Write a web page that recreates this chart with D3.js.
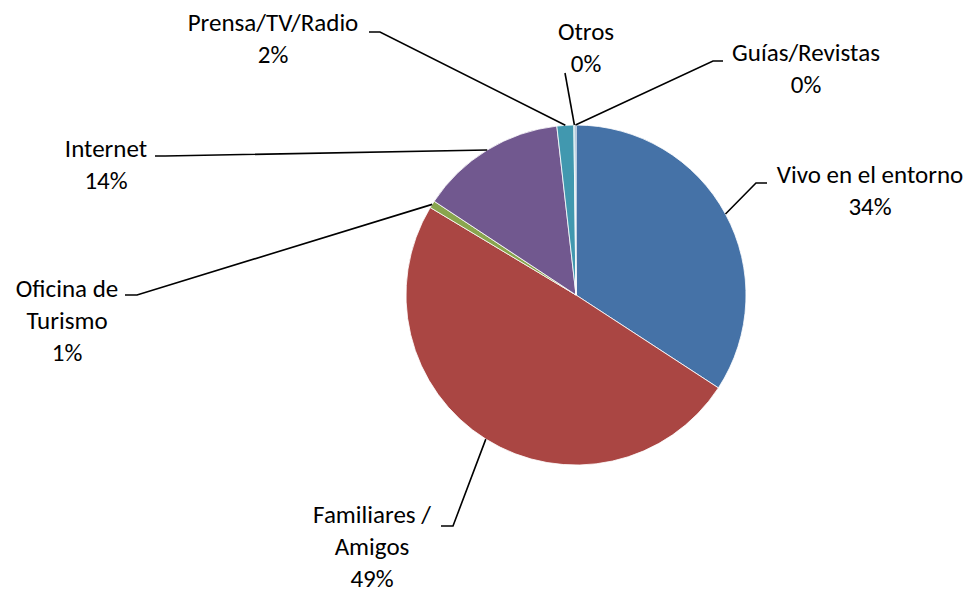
<!DOCTYPE html>
<html><head><meta charset="utf-8">
<script src="https://cdn.jsdelivr.net/npm/d3@7"></script>
<style>body{margin:0;background:#fff}</style>
</head><body><svg id="c" width="977" height="594"></svg>
<script>
const categories = ["Vivo en el entorno","Familiares / Amigos","Oficina de Turismo","Internet","Prensa/TV/Radio","Otros","Guías/Revistas"];
const values = [34.2, 49.4, 0.7, 13.9, 1.6, 0.1, 0.1];
const colors = ["#4572A7","#AA4643","#89A54E","#71588F","#4198AF","#4198AF","#4572A7"];
// label text lines (category split as in the reference)
const labelLines = [["Vivo en el entorno"],["Familiares /","Amigos"],["Oficina de","Turismo"],["Internet"],["Prensa/TV/Radio"],["Otros"],["Guías/Revistas"]];

// layout
const cx = 576, cy = 295, R = 170, lineH = 32, fs = 25;
const labelPos = [
  {x:870, y:183, stub:[[767,183],[756,183]]},
  {x:372, y:523, stub:[[441,526],[453,526]]},
  {x:67,  y:297, stub:[[125,295],[137,295]]},
  {x:106, y:157, stub:[[155,156],[165,156]]},
  {x:273, y:31,  stub:[[369,32],[380,32]]},
  {x:586, y:40,  stub:[[565,73]]},
  {x:806, y:61,  stub:[[723,61],[713,61]]}
];

const svg = d3.select("#c");
const total = d3.sum(values);
const pie = d3.pie().sort(null).value(d=>d);
const arcs = pie(values);
const arc = d3.arc().innerRadius(0).outerRadius(R);
const g = svg.append("g").attr("transform",`translate(${cx},${cy})`);
g.selectAll("path").data(arcs).join("path")
  .attr("d",arc).attr("fill",(d,i)=>colors[i])
  .attr("stroke","#fff").attr("stroke-width",0.8);

const fmt = d3.format(".0%");
const line = d3.line();
arcs.forEach((a,i)=>{
  const m = (a.startAngle+a.endAngle)/2;
  const px = cx + R*Math.sin(m), py = cy - R*Math.cos(m);
  const pts = labelPos[i].stub.concat([[px,py]]);
  svg.append("path").attr("d",line(pts)).attr("fill","none")
    .attr("stroke","#000").attr("stroke-width",1.6);
  const t = svg.append("text").attr("text-anchor","middle")
    .attr("font-family","Carlito, Calibri, Lato, sans-serif").attr("font-size",fs).attr("fill","#000");
  const lines = labelLines[i].concat([fmt(values[i]/total)]);
  lines.forEach((s,k)=>{
    t.append("tspan").attr("x",labelPos[i].x).attr("y",labelPos[i].y+k*lineH).text(s);
  });
});
</script></body></html>
